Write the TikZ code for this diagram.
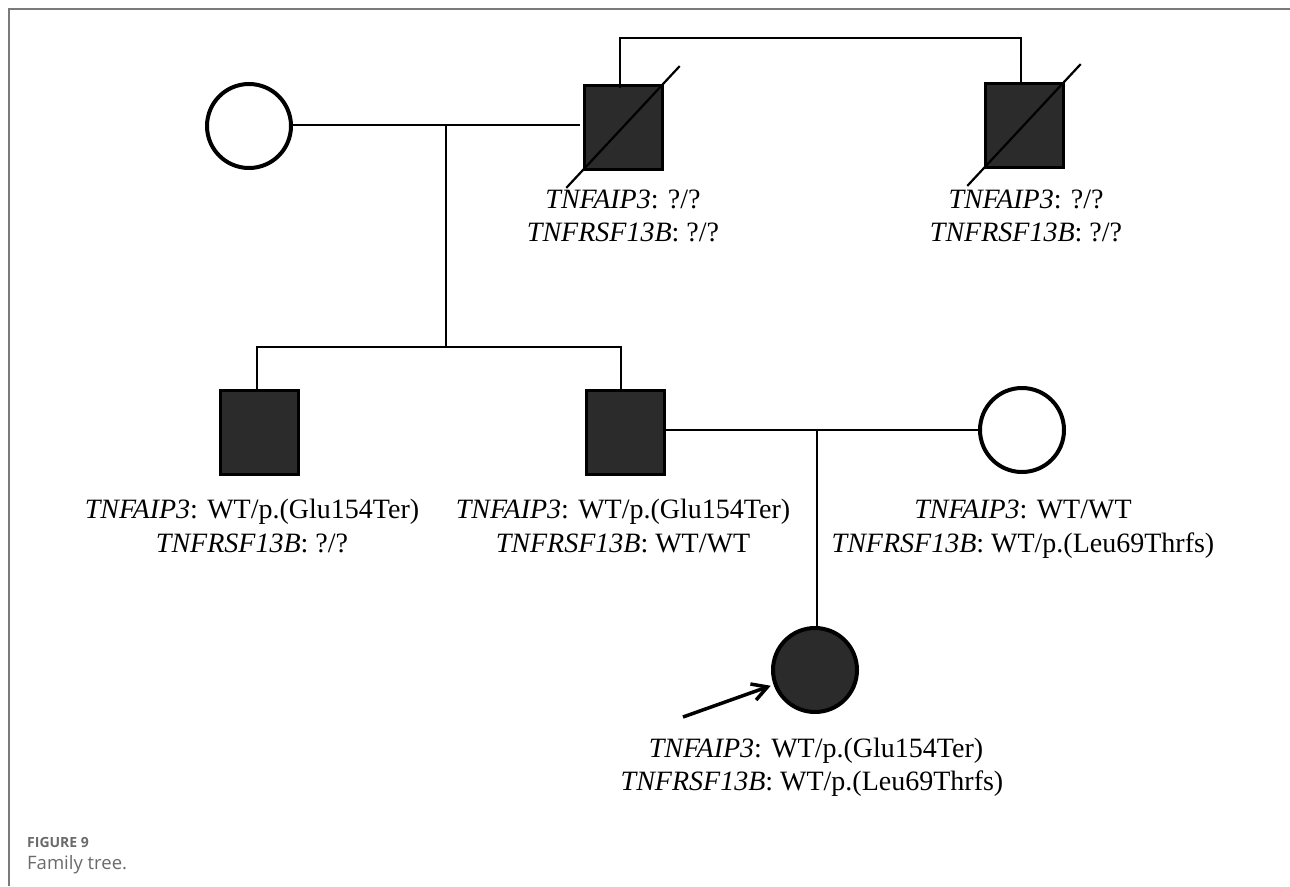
\documentclass[tikz,border=0pt]{standalone}
\usepackage{fontspec}
\setmainfont{Liberation Serif}
\newfontfamily\capfont{Open Sans}
\usetikzlibrary{arrows.meta,calc}
\definecolor{fillc}{HTML}{2B2B2B}
\definecolor{framec}{HTML}{7A7A7A}
\definecolor{capc}{HTML}{6A6A6A}
\begin{document}
\begin{tikzpicture}[x=1pt,y=-1pt,
  male/.style={draw=black, line width=3pt, fill=fillc, minimum width=78pt, minimum height=84pt, inner sep=0pt},
  female/.style={circle, draw=black, line width=4pt, minimum size=84pt, inner sep=0pt},
  conn/.style={line width=2pt},
  slash/.style={line width=2.2pt},
  lbl/.style={font=\fontsize{28}{34}\selectfont, anchor=base, inner sep=0pt},
  captext/.style={text=capc, anchor=base west, inner sep=0pt}]
\useasboundingbox (0,0) rectangle (1290,886);
\draw[framec, line width=1.3pt] (9,886) -- (9,9) -- (1290,9);

% generation I
\node[female] (f1) at (249,126) {};
\node[male] (m1) at (623,127) {};
\node[male] (m2) at (1024,125) {};
% generation II
\node[male] (s1) at (259.5,432.5) {};
\node[male] (s2) at (625,432.5) {};
\node[female] (f2) at (1022,430) {};
% generation III
\node[female, fill=fillc] (p) at (815,670) {};

% deceased slashes
\draw[slash] ($(m1.south west)!-0.2!(m1.north east)$) -- ($(m1.south west)!1.2!(m1.north east)$);
\draw[slash] ($(m2.south west)!-0.2!(m2.north east)$) -- ($(m2.south west)!1.2!(m2.north east)$);

% marriages and lines of descent
\coordinate (mI) at (446,125);
\coordinate (sibL) at (257,347);
\coordinate (sibR) at (621,347);
\coordinate (mII) at (817,430);
\draw[conn] (f1.east |- mI) -- ([xshift=-3pt]m1.west |- mI);
\draw[conn] (mI) -- (mI |- sibL);
\draw[conn] (s1.north -| sibL) -- (sibL) -- (sibR) -- (s2.north -| sibR);
\draw[conn] (s2.east |- mII) -- (f2.west |- mII);
\draw[conn] (mII) -- (p.north -| mII);

% siblings in generation I
\coordinate (tL) at (620,38);
\coordinate (tR) at (1021,38);
\draw[conn] ([yshift=-4pt]m1.north -| tL) -- (tL) -- (tR) -- (m2.north -| tR);

% proband arrow
\coordinate (arr) at (683,717);
\draw[line width=3.5pt, -{Straight Barb[length=15pt,width=17pt]}, shorten >=3pt] (arr) -- (p);

% genotype labels
\node[lbl] (l1a) at (623,208) {\textit{TNFAIP3}: ?/?};
\node[lbl] (l1b) at (623,241) {\textit{TNFRSF13B}: ?/?};
\node[lbl] (l2a) at (1026,208) {\textit{TNFAIP3}: ?/?};
\node[lbl] (l2b) at (1026,241) {\textit{TNFRSF13B}: ?/?};
\node[lbl] (l3a) at (252,518) {\textit{TNFAIP3}: WT/p.(Glu154Ter)};
\node[lbl] (l3b) at (252,552) {\textit{TNFRSF13B}: ?/?};
\node[lbl] (l4a) at (623,518) {\textit{TNFAIP3}: WT/p.(Glu154Ter)};
\node[lbl] (l4b) at (623,552) {\textit{TNFRSF13B}: WT/WT};
\node[lbl] (l5a) at (1023,518) {\textit{TNFAIP3}: WT/WT};
\node[lbl] (l5b) at (1023,552) {\textit{TNFRSF13B}: WT/p.(Leu69Thrfs)};
\node[lbl] (l6a) at (816,757) {\textit{TNFAIP3}: WT/p.(Glu154Ter)};
\node[lbl] (l6b) at (812,790) {\textit{TNFRSF13B}: WT/p.(Leu69Thrfs)};

% caption
\node[captext, font=\capfont\bfseries\fontsize{14}{16}\selectfont] (c1) at (27,847) {FIGURE 9};
\node[captext, font=\capfont\fontsize{18.5}{20}\selectfont] (c2) at (27,869) {Family tree.};
\end{tikzpicture}
\end{document}
